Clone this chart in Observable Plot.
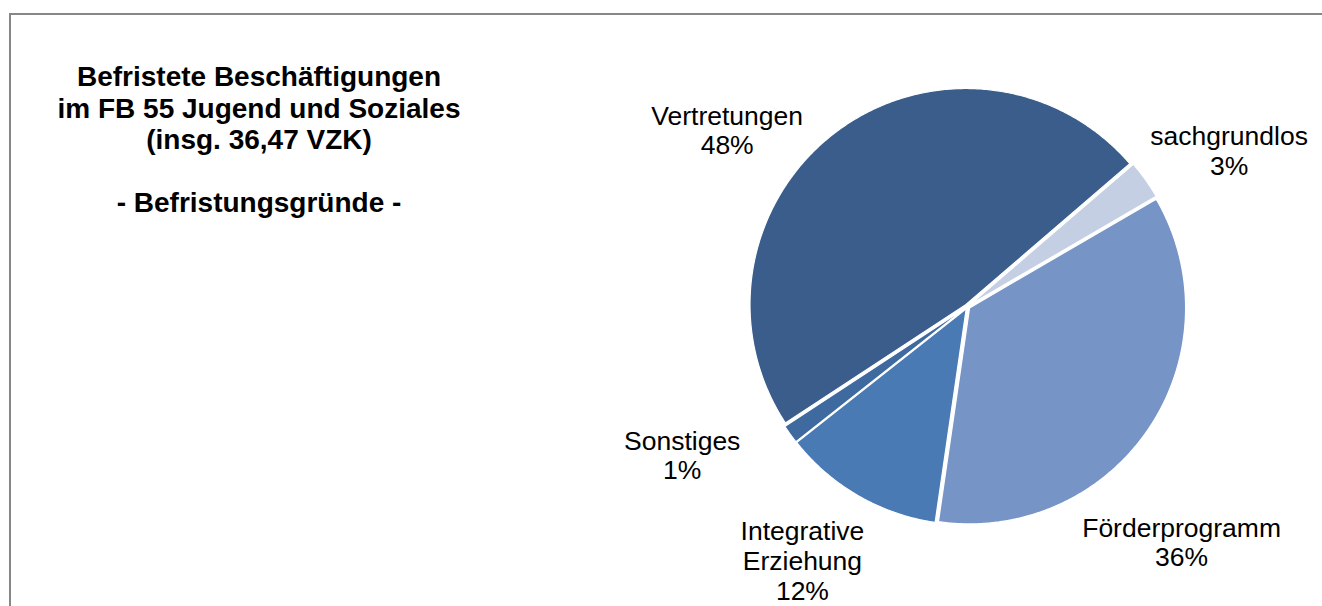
<!DOCTYPE html>
<html><head><meta charset="utf-8">
<script src="https://cdn.jsdelivr.net/npm/d3@7"></script>
<script src="https://cdn.jsdelivr.net/npm/@observablehq/plot@0.6"></script>
<style>
html,body{margin:0;padding:0;background:#fff;}
#wrap{position:relative;width:1322px;height:606px;overflow:hidden;font-family:"Liberation Sans",Arial,sans-serif;}
#frame{position:absolute;left:9px;top:13px;width:1340px;height:640px;border:2px solid #878787;box-sizing:border-box;}
#title{position:absolute;left:19px;width:480px;top:61px;text-align:center;font-weight:bold;font-size:28px;line-height:31.5px;color:#000;white-space:pre;}
#chart{position:absolute;left:0;top:0;}
</style></head>
<body><div id="wrap"><div id="frame"></div><div id="title"></div><div id="chart"></div></div>
<script>
// ---- data ----
const categories = ["sachgrundlos", "Förderprogramm", "Integrative Erziehung", "Sonstiges", "Vertretungen"];
const labelNames = ["sachgrundlos", "Förderprogramm", "Integrative\nErziehung", "Sonstiges", "Vertretungen"];
const vzk = [1.06, 13.02, 4.40, 0.51, 17.48];   // Vollzeitkräfte (insg. 36,47)
const colors = ["#C4CFE3", "#7695C6", "#4A7AB4", "#3F6A9F", "#3A5D8B"];
const titleLines = ["Befristete Beschäftigungen", "im FB 55 Jugend und Soziales", "(insg. 36,47 VZK)", "", "- Befristungsgründe -"];

// ---- layout ----
const startAngle = 49.3;            // degrees clockwise from 12 o'clock
const cx = 967.5, cy = 306.5, r = 216;
const explodePx = 2.5;
const labelAngleNudge = [4.5, 13.7, 3.2, 8.4, -16.7];
const labelRadius = [1.41, 1.47, 1.40, 1.49, 1.384];

document.getElementById("title").textContent = titleLines.join("\n");

const total = d3.sum(vzk);
const rad = Math.PI / 180;
let acc = startAngle;
const slices = categories.map((c, i) => {
  const span = vzk[i] / total * 360;
  const s = {cat: c, a0: acc, a1: acc + span, mid: acc + span / 2, pct: Math.round(vzk[i] / total * 100)};
  acc += span;
  return s;
});

const explode = explodePx / r;
const rows = [];
for (const s of slices) {
  const ex = explode * Math.sin(s.mid * rad), ey = explode * Math.cos(s.mid * rad);
  const n = Math.max(2, Math.ceil((s.a1 - s.a0) / 0.5));
  for (let k = 0; k <= n; k++) {
    const t = (s.a0 + (s.a1 - s.a0) * k / n) * rad;
    rows.push({cat: s.cat, x: ex + Math.sin(t), y: ey + Math.cos(t), x0: ex, y0: ey});
  }
}

const labels = slices.map((s, i) => {
  const ang = (s.mid + labelAngleNudge[i]) * rad;
  return {x: labelRadius[i] * Math.sin(ang), y: labelRadius[i] * Math.cos(ang), text: labelNames[i] + "\n" + s.pct + "%"};
});

const chart = Plot.plot({
  width: 1322,
  height: 606,
  margin: 0,
  axis: null,
  x: {domain: [-1, 1], range: [cx - r, cx + r]},
  y: {domain: [-1, 1], range: [cy + r, cy - r]},
  color: {domain: categories, range: colors},
  style: {fontFamily: "'Liberation Sans', Arial, sans-serif", background: "transparent"},
  marks: [
    Plot.area(rows, {x1: "x", y1: "y", x2: "x0", y2: "y0", z: "cat", fill: "cat", stroke: "white", strokeWidth: 1.2}),
    Plot.text(labels, {x: "x", y: "y", text: "text", fontSize: 26.5, lineHeight: 1.13, fill: "black"})
  ]
});
document.getElementById("chart").appendChild(chart);
</script>
</body></html>
